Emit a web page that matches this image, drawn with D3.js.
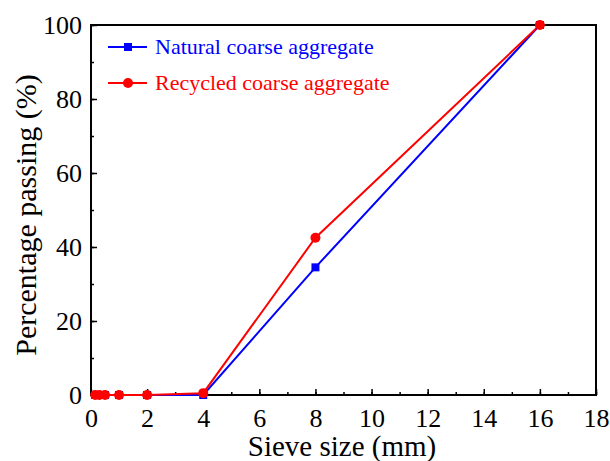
<!DOCTYPE html>
<html>
<head>
<meta charset="utf-8">
<script src="https://cdn.jsdelivr.net/npm/d3@7"></script>
<style>
  body { margin: 0; background: #fff; }
  svg text { font-family: "Liberation Serif", "Times New Roman", Times, serif; }
</style>
</head>
<body>
<div id="chart"></div>
<script>
var width = 610
var height = 461

// sieve sizes (mm) and percentage passing
const sieveSizes = [0.15, 0.3, 0.5, 1, 2, 4, 8, 16];
const naturalPassing = [0, 0, 0, 0, 0, 0, 34.5, 100];
const recycledPassing = [0, 0, 0, 0, 0, 0.5, 42.5, 100];
const seriesNames = ["Natural coarse aggregate", "Recycled coarse aggregate"];
const seriesColors = ["#0000ff", "#ff0000"];
const xTicks = [0, 2, 4, 6, 8, 10, 12, 14, 16, 18];
const yTicks = [0, 20, 40, 60, 80, 100];

var svg = d3.select("#chart").append("svg")
    .attr("width", width)
    .attr("height", height)

const margin = {top: 25, right: 14, bottom: 66, left: 91}
const innerWidth = width - margin.left - margin.right;
const innerHeight = height - margin.top - margin.bottom;

const xScale = d3.scaleLinear().domain([0, 18]).range([0, innerWidth]);
const yScale = d3.scaleLinear().domain([0, 100]).range([innerHeight, 0]);

const g = svg.append("g")
    .attr("transform", `translate(${margin.left}, ${margin.top})`)

// minor ticks
const xMinor = d3.axisBottom(xScale).ticks(18).tickSize(-3).tickFormat("");
const yMinor = d3.axisLeft(yScale).ticks(10).tickSize(-3).tickFormat("");
g.append("g").attr("transform", `translate(0, ${innerHeight})`).call(xMinor);
g.append("g").call(yMinor);
g.selectAll("text").remove();

// major ticks
const xAxis = d3.axisBottom(xScale).tickValues(xTicks).tickSize(-6);
const yAxis = d3.axisLeft(yScale).tickValues(yTicks).tickSize(-6).tickPadding(9);
const gx = g.append("g").attr("transform", `translate(0, ${innerHeight})`).call(xAxis);
const gy = g.append("g").call(yAxis);

g.selectAll(".domain").remove();
g.selectAll(".tick line").attr("stroke", "#000").attr("stroke-width", 1.5);
gx.attr("font-family", null);
gy.attr("font-family", null);
gx.selectAll("text").style("font-size", "26px").attr("fill", "#000")
    .attr("y", 32).attr("dy", 0);
gy.selectAll("text").style("font-size", "26px").attr("fill", "#000")
    .attr("dy", "0.34em");

// frame
g.append("rect")
    .attr("width", innerWidth)
    .attr("height", innerHeight)
    .attr("fill", "none")
    .attr("stroke", "#000")
    .attr("stroke-width", 2);

// lines
const series = [naturalPassing, recycledPassing];
const line = d3.line()
    .x((d, i) => xScale(sieveSizes[i]))
    .y(d => yScale(d));

series.forEach((vals, k) => {
    g.append("path")
        .datum(vals)
        .attr("d", line)
        .attr("fill", "none")
        .attr("stroke", seriesColors[k])
        .attr("stroke-width", 2);
});

// markers
g.selectAll(".sq").data(naturalPassing).enter().append("rect")
    .attr("x", (d, i) => xScale(sieveSizes[i]) - 4)
    .attr("y", d => yScale(d) - 4)
    .attr("width", 8)
    .attr("height", 8)
    .attr("fill", seriesColors[0]);

g.selectAll(".dot").data(recycledPassing).enter().append("circle")
    .attr("cx", (d, i) => xScale(sieveSizes[i]))
    .attr("cy", d => yScale(d))
    .attr("r", 5)
    .attr("fill", seriesColors[1]);

// legend
const legend = svg.append("g")
seriesNames.forEach((name, k) => {
    const y = 47 + k * 36;
    legend.append("line")
        .attr("x1", 108).attr("x2", 147)
        .attr("y1", y).attr("y2", y)
        .attr("stroke", seriesColors[k]).attr("stroke-width", 2);
    if (k == 0) {
        legend.append("rect").attr("x", 124).attr("y", y - 4)
            .attr("width", 8).attr("height", 8).attr("fill", seriesColors[k]);
    } else {
        legend.append("circle").attr("cx", 128).attr("cy", y)
            .attr("r", 5).attr("fill", seriesColors[k]);
    }
    legend.append("text")
        .attr("x", 155).attr("y", y + 7)
        .style("font-size", "22px")
        .attr("fill", seriesColors[k])
        .text(name);
});

// axis titles
svg.append("text")
    .attr("x", 342)
    .attr("y", 456)
    .attr("text-anchor", "middle")
    .style("font-size", "29px")
    .text("Sieve size (mm)");

svg.append("text")
    .attr("transform", `translate(36, 215) rotate(-90)`)
    .attr("text-anchor", "middle")
    .style("font-size", "30px")
    .text("Percentage passing (%)");
</script>
</body>
</html>
